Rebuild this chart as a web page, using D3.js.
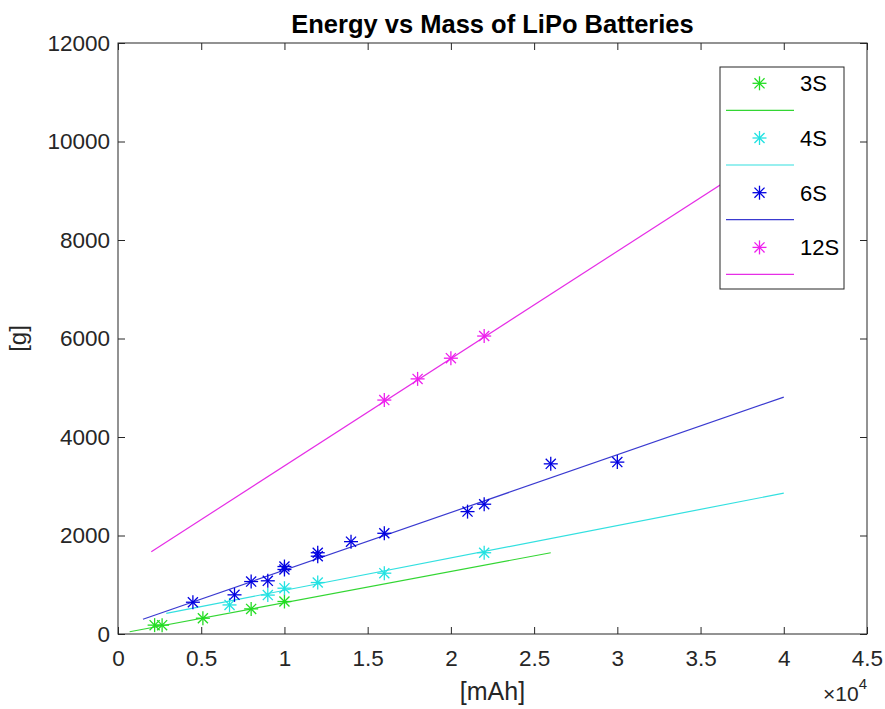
<!DOCTYPE html>
<html>
<head>
<meta charset="utf-8">
<script src="https://cdn.jsdelivr.net/npm/d3@7"></script>
<style>
  body { margin: 0; background: #fff; }
  text { font-family: "Liberation Sans", Arial, Helvetica, sans-serif; }
</style>
</head>
<body>
<svg id="chart" width="885" height="709"></svg>
<script>
// Battery capacity (mAh) against mass (g) for each cell count
const seriesNames = ["3S", "4S", "6S", "12S"];
const seriesColors = ["#22dd22", "#22e2e2", "#0000e0", "#ee1fee"];
const fitColors = ["#33d633", "#33e0e0", "#3a3ad0", "#e62ee6"];

const mAh3S = [2200, 2650, 5100, 8000, 10000];
const g3S   = [180, 180, 320, 510, 660];

const mAh4S = [6700, 9000, 10000, 12000, 16000, 22000];
const g4S   = [590, 790, 930, 1045, 1235, 1650];

const mAh6S = [4500, 7000, 8000, 9000, 10000, 10000, 12000, 12000, 14000, 16000, 21000, 22000, 26000, 30000];
const g6S   = [645, 795, 1065, 1080, 1370, 1310, 1650, 1580, 1875, 2045, 2485, 2635, 3455, 3490];

const mAh12S = [16000, 18000, 20000, 22000];
const g12S   = [4750, 5180, 5600, 6050];

// Linear-fit end points [mAh, g] per series
const fit3S  = [[700, 45], [26000, 1650]];
const fit4S  = [[2900, 420], [40000, 2860]];
const fit6S  = [[1500, 300], [40000, 4810]];
const fit12S = [[2000, 1670], [40000, 9950]];

const xTickValues = [0, 5000, 10000, 15000, 20000, 25000, 30000, 35000, 40000, 45000];
const yTickValues = [0, 2000, 4000, 6000, 8000, 10000, 12000];

const series = [
  { name: seriesNames[0], color: seriesColors[0], fitColor: fitColors[0], x: mAh3S,  y: g3S,  fit: fit3S },
  { name: seriesNames[1], color: seriesColors[1], fitColor: fitColors[1], x: mAh4S,  y: g4S,  fit: fit4S },
  { name: seriesNames[2], color: seriesColors[2], fitColor: fitColors[2], x: mAh6S,  y: g6S,  fit: fit6S },
  { name: seriesNames[3], color: seriesColors[3], fitColor: fitColors[3], x: mAh12S, y: g12S, fit: fit12S }
];

const svg = d3.select("#chart");
const plot = { left: 118, right: 867, top: 43, bottom: 634 };
const axisColor = "#262626";
const tickFont = 22.5;

const x = d3.scaleLinear().domain([0, 45000]).range([plot.left, plot.right]);
const y = d3.scaleLinear().domain([0, 12000]).range([plot.bottom, plot.top]);

svg.append("rect").attr("width", 885).attr("height", 709).attr("fill", "#fff");

// Asterisk marker: vertical, horizontal and two diagonal strokes
function asterisk(sel, cx, cy, r, color) {
  const g = sel.append("g").attr("transform", `translate(${cx},${cy})`)
    .attr("stroke", color).attr("stroke-width", 1.3).attr("fill", "none");
  const d = r * 0.72;
  g.append("line").attr("x1", 0).attr("y1", -r).attr("x2", 0).attr("y2", r);
  g.append("line").attr("x1", -r).attr("y1", 0).attr("x2", r).attr("y2", 0);
  g.append("line").attr("x1", -d).attr("y1", -d).attr("x2", d).attr("y2", d);
  g.append("line").attr("x1", -d).attr("y1", d).attr("x2", d).attr("y2", -d);
}

// Fit lines and data markers
const line = d3.line().x(d => x(d[0])).y(d => y(d[1]));
series.forEach(s => {
  svg.append("path").datum(s.fit).attr("d", line)
    .attr("fill", "none").attr("stroke", s.fitColor).attr("stroke-width", 1.2);
});
series.forEach(s => {
  const gm = svg.append("g");
  s.x.forEach((v, i) => asterisk(gm, x(v), y(s.y[i]), 7, s.color));
});

// Axes with inward ticks on all four sides
function styleAxis(g) {
  g.select(".domain").remove();
  g.selectAll(".tick line").attr("stroke", axisColor);
  g.selectAll(".tick text").attr("fill", axisColor)
    .style("font-size", tickFont + "px")
    .style("font-family", '"Liberation Sans", Arial, sans-serif');
}
const fmtX = d => d === 0 ? "0" : String(d / 10000);

svg.append("g").attr("transform", `translate(0,${plot.bottom})`)
  .call(d3.axisBottom(x).tickValues(xTickValues).tickFormat(fmtX).tickSizeInner(-7).tickSizeOuter(0).tickPadding(16))
  .call(styleAxis);
svg.append("g").attr("transform", `translate(0,${plot.top})`)
  .call(d3.axisTop(x).tickValues(xTickValues).tickFormat("").tickSizeInner(-7).tickSizeOuter(0))
  .call(styleAxis);
svg.append("g").attr("transform", `translate(${plot.left},0)`)
  .call(d3.axisLeft(y).tickValues(yTickValues).tickFormat(d3.format("d")).tickSizeInner(-7).tickSizeOuter(0).tickPadding(8))
  .call(styleAxis);
svg.append("g").attr("transform", `translate(${plot.right},0)`)
  .call(d3.axisRight(y).tickValues(yTickValues).tickFormat("").tickSizeInner(-7).tickSizeOuter(0))
  .call(styleAxis);

svg.append("rect")
  .attr("x", plot.left).attr("y", plot.top)
  .attr("width", plot.right - plot.left).attr("height", plot.bottom - plot.top)
  .attr("fill", "none").attr("stroke", axisColor).attr("stroke-width", 1);

// Title and axis labels
svg.append("text").attr("x", (plot.left + plot.right) / 2).attr("y", 33)
  .attr("text-anchor", "middle").attr("font-weight", "bold").attr("font-size", 25.5)
  .attr("fill", "#000").text("Energy vs Mass of LiPo Batteries");

svg.append("text").attr("x", (plot.left + plot.right) / 2).attr("y", 700)
  .attr("text-anchor", "middle").attr("font-size", 25).attr("fill", axisColor).text("[mAh]");

svg.append("text").attr("transform", `translate(26,${(plot.top + plot.bottom) / 2}) rotate(-90)`)
  .attr("text-anchor", "middle").attr("font-size", 24).attr("fill", axisColor).text("[g]");

// Axis exponent multiplier
const expo = svg.append("text").attr("x", plot.right).attr("y", 701)
  .attr("text-anchor", "end").attr("font-size", 21).attr("fill", axisColor);
expo.append("tspan").text("\u00d710");
expo.append("tspan").attr("dy", -12).attr("font-size", 15).text("4");

// Legend
const lg = { x: 720, y: 67, w: 124, h: 222 };
const legend = svg.append("g");
legend.append("rect").attr("x", lg.x).attr("y", lg.y).attr("width", lg.w).attr("height", lg.h)
  .attr("fill", "#fff").attr("stroke", axisColor).attr("stroke-width", 1);
series.forEach((s, i) => {
  const top = 83.3 + i * 54.7;
  asterisk(legend, 759.5, top, 7, s.color);
  legend.append("line").attr("x1", 726).attr("x2", 794)
    .attr("y1", top + 27).attr("y2", top + 27)
    .attr("stroke", s.fitColor).attr("stroke-width", 1.2);
  legend.append("text").attr("x", 800).attr("y", top + 8)
    .attr("font-size", 22).attr("fill", "#000").text(s.name);
});
</script>
</body>
</html>
